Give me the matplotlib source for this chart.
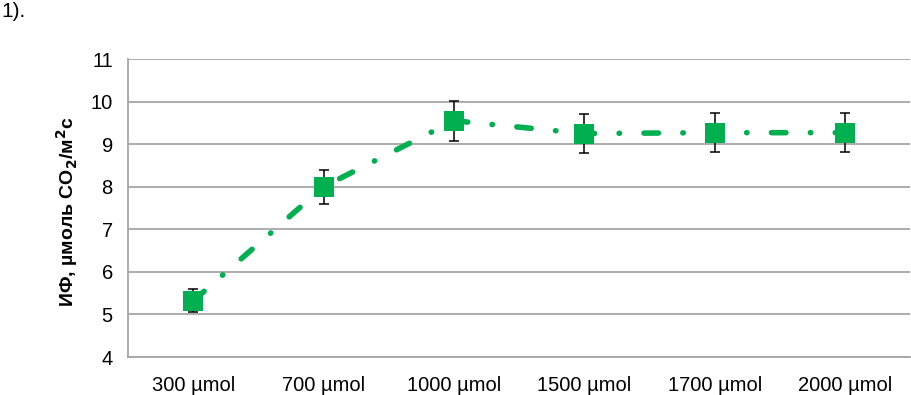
import matplotlib.pyplot as plt
import numpy as np

plt.rcParams['font.family'] = ['Liberation Sans', 'DejaVu Sans']
plt.rcParams['lines.scale_dashes'] = False

categories = ['300 µmol', '700 µmol', '1000 µmol', '1500 µmol', '1700 µmol', '2000 µmol']
values = [5.32, 8.0, 9.55, 9.25, 9.27, 9.27]
errors = [0.27, 0.4, 0.47, 0.46, 0.46, 0.46]

green = '#00b050'
grid_grey = '#a6a6a6'

fig = plt.figure(figsize=(9.12, 3.95), dpi=100)
ax = fig.add_axes([0.1404, 0.0962, 0.8576, 0.7544])

x = np.arange(len(categories))
ax.errorbar(x, values, yerr=errors, fmt='none', ecolor='black',
            elinewidth=1.1, capsize=3.3, capthick=1.1, zorder=3)
ax.plot(x, values, color=green, linewidth=4.0, solid_capstyle='round',
        dash_capstyle='round', dashes=(10.4, 17.6, 0.3, 17.6),
        marker='s', markersize=14.5, markeredgewidth=0, zorder=4)

ax.set_xlim(-0.5, len(categories) - 0.5)
ax.set_ylim(4, 11)
ax.set_yticks(range(4, 12))
ax.set_xticks(x)
ax.set_xticklabels(categories)
ax.tick_params(axis='both', length=0, labelsize=14.5)
ax.tick_params(axis='y', pad=11)
ax.tick_params(axis='x', pad=14)

ax.grid(axis='y', color=grid_grey, linewidth=1.3)
ax.set_axisbelow(True)
for side in ['top', 'right']:
    ax.spines[side].set_visible(False)
for side in ['left', 'bottom']:
    ax.spines[side].set_color(grid_grey)
    ax.spines[side].set_linewidth(1.3)

ax.set_ylabel('ИФ, µмоль CO$_\\mathbf{2}$/м$^\\mathbf{2}$с', fontsize=14, fontweight='bold')
ax.yaxis.set_label_coords(-0.061, 0.487)

fig.text(0.001, 1 - 17 / 395, '1).', fontsize=15, va='baseline')

fig.savefig('out.png', dpi=100)
